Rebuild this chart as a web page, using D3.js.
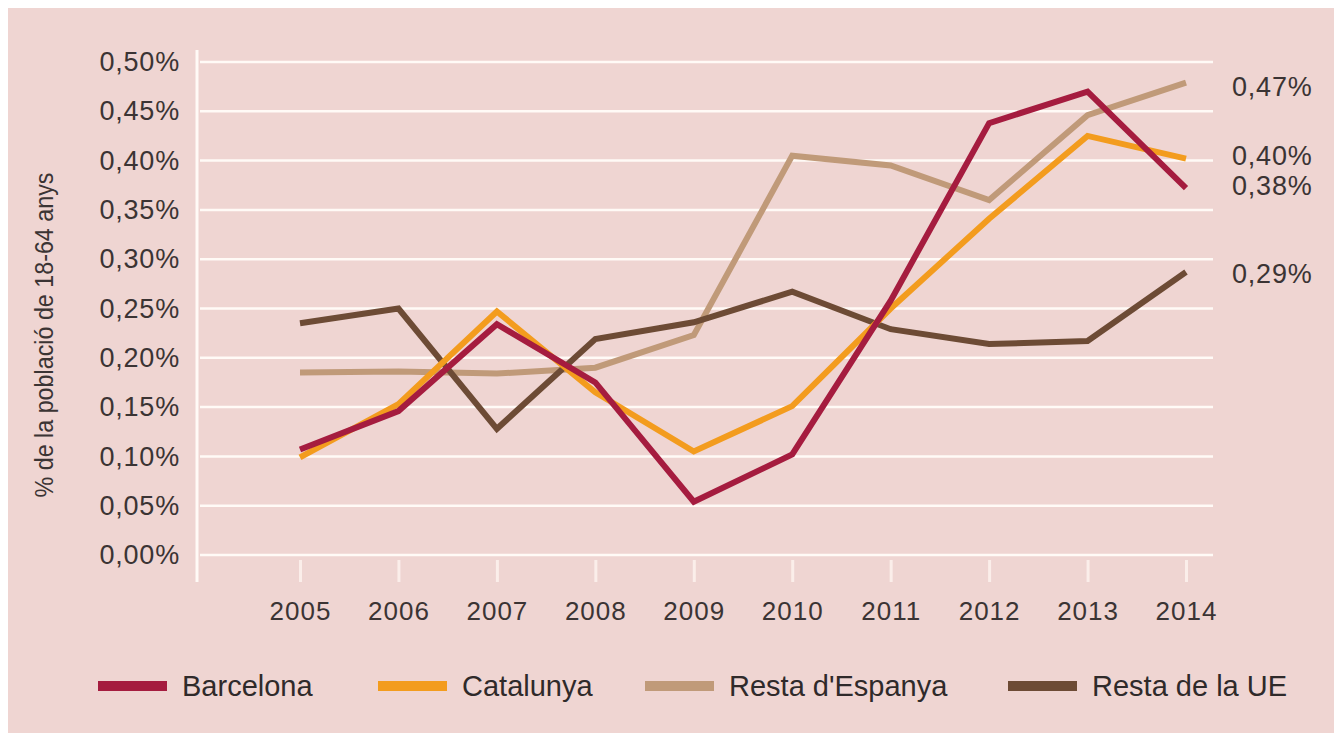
<!DOCTYPE html>
<html>
<head>
<meta charset="utf-8">
<script src="https://cdn.jsdelivr.net/npm/d3@7"></script>
<style>
  html, body { margin: 0; padding: 0; background: #ffffff; }
  svg { display: block; font-family: "Liberation Sans", Arial, sans-serif; }
</style>
</head>
<body>
<div id="chart"></div>
<script>
const years = [2005, 2006, 2007, 2008, 2009, 2010, 2011, 2012, 2013, 2014];
const barcelona = [0.107, 0.146, 0.234, 0.175, 0.054, 0.102, 0.258, 0.438, 0.470, 0.372];
const catalunya = [0.099, 0.153, 0.247, 0.165, 0.105, 0.151, 0.250, 0.341, 0.425, 0.402];
const restaEspanya = [0.185, 0.186, 0.184, 0.190, 0.223, 0.405, 0.395, 0.360, 0.446, 0.479];
const restaUE = [0.235, 0.250, 0.128, 0.219, 0.236, 0.267, 0.229, 0.214, 0.217, 0.287];

const yTicks = [0, 0.05, 0.10, 0.15, 0.20, 0.25, 0.30, 0.35, 0.40, 0.45, 0.50];
const seriesNames = ["Barcelona", "Catalunya", "Resta d'Espanya", "Resta de la UE"];
const seriesColors = ["#a51c3f", "#f39c1e", "#c09a79", "#6d4b35"];
const endLabels = ["0,38%", "0,40%", "0,47%", "0,29%"];

const series = [barcelona, catalunya, restaEspanya, restaUE].map((values, i) => ({
  name: seriesNames[i],
  color: seriesColors[i],
  label: endLabels[i],
  values: values.map((v, j) => ({ year: years[j], value: v }))
}));

const width = 1334, height = 733;
const fmt = v => d3.format(".2f")(v).replace(".", ",") + "%";

const svg = d3.select("#chart").append("svg")
  .attr("width", width)
  .attr("height", height);

svg.append("rect")
  .attr("x", 8).attr("y", 8)
  .attr("width", width - 8).attr("height", height - 8)
  .attr("fill", "#efd5d2");

const x = d3.scalePoint()
  .domain(years)
  .range([300, 1186]);

const y = d3.scaleLinear()
  .domain([0, 0.5])
  .range([555, 62]);

// gridlines + y labels
const yAxis = svg.append("g")
  .attr("transform", "translate(197,0)")
  .call(d3.axisLeft(y).tickValues(yTicks).tickFormat(fmt).tickSize(0).tickPadding(17));
yAxis.select(".domain").remove();
yAxis.selectAll("text")
  .style("font-size", "27px")
  .style("letter-spacing", "0.8px")
  .attr("fill", "#3b3434");

svg.append("g")
  .selectAll("line")
  .data(yTicks)
  .join("line")
  .attr("x1", 200)
  .attr("x2", 1213)
  .attr("y1", d => y(d))
  .attr("y2", d => y(d))
  .attr("stroke", "#fffaf6")
  .attr("stroke-width", 2.5);

// vertical axis line
svg.append("line")
  .attr("x1", 197).attr("x2", 197)
  .attr("y1", 50).attr("y2", 582)
  .attr("stroke", "#fffaf6")
  .attr("stroke-width", 3);

// x axis
const xAxis = svg.append("g")
  .attr("transform", "translate(0,560)")
  .call(d3.axisBottom(x).tickSize(22).tickPadding(20));
xAxis.select(".domain").remove();
xAxis.selectAll(".tick line")
  .attr("stroke", "#fbeeea")
  .attr("stroke-width", 3);
xAxis.selectAll("text")
  .style("font-size", "26px")
  .style("letter-spacing", "1px")
  .attr("fill", "#3b3434");

// axis title
svg.append("text")
  .attr("transform", "translate(53,335) rotate(-90)")
  .attr("text-anchor", "middle")
  .attr("textLength", 325)
  .attr("lengthAdjust", "spacingAndGlyphs")
  .style("font-size", "25px")
  .attr("fill", "#3b3434")
  .text("% de la població de 18-64 anys");

// lines
const line = d3.line()
  .x(d => x(d.year))
  .y(d => y(d.value));

const drawOrder = [2, 3, 1, 0];
svg.append("g")
  .selectAll("path")
  .data(drawOrder.map(i => series[i]))
  .join("path")
  .attr("d", d => line(d.values))
  .attr("fill", "none")
  .attr("stroke", d => d.color)
  .attr("stroke-width", 6)
  .attr("stroke-linejoin", "miter");

// end labels
const labelNudge = [-3, -3, 4, 1];
svg.append("g")
  .selectAll("text")
  .data(series)
  .join("text")
  .attr("x", 1232)
  .attr("y", (d, i) => y(d.values[d.values.length - 1].value) + labelNudge[i])
  .attr("dy", "0.36em")
  .style("font-size", "27px")
  .style("letter-spacing", "0.8px")
  .attr("fill", "#3b3434")
  .text(d => d.label);

// legend
const legendX = [98, 378, 645, 1008];
const legend = svg.append("g")
  .selectAll("g")
  .data(series)
  .join("g")
  .attr("transform", (d, i) => `translate(${legendX[i]},686)`);

legend.append("line")
  .attr("x1", 0).attr("x2", 69)
  .attr("stroke", d => d.color)
  .attr("stroke-width", 10);

legend.append("text")
  .attr("x", 84)
  .attr("dy", "0.36em")
  .style("font-size", "29px")
  .attr("fill", "#2f2a2a")
  .text(d => d.name);
</script>
</body>
</html>
